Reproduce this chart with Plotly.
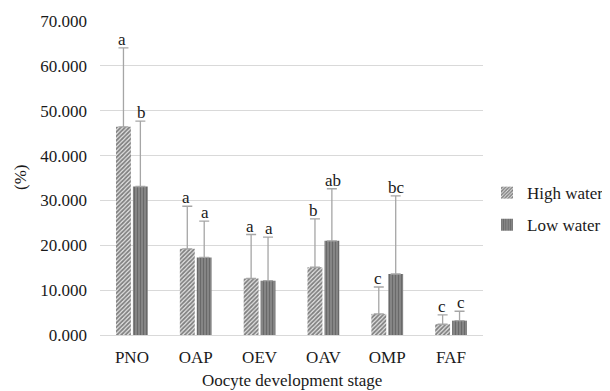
import plotly.graph_objects as go

categories = ["PNO", "OAP", "OEV", "OAV", "OMP", "FAF"]
high_water = [46.4, 19.2, 12.6, 15.1, 4.7, 2.4]
high_err = [17.6, 9.5, 9.8, 10.8, 6.0, 2.1]
low_water = [33.1, 17.3, 12.1, 21.0, 13.6, 3.2]
low_err = [14.6, 8.1, 9.7, 11.6, 17.4, 2.1]
high_letters = ["a", "a", "a", "b", "c", "c"]
low_letters = ["b", "a", "a", "ab", "bc", "c"]
y_ticks = [0, 10, 20, 30, 40, 50, 60, 70]

font = "Times New Roman, Liberation Serif, serif"
txt = "#1a1a1a"
# page body has an 8px default margin, so the figure is sized/offset to compensate
W, H = 602, 383
L, T, PW, PH = 92, 13, 383, 314

fig = go.Figure()
fig.add_trace(go.Bar(
    name="High water", x=categories, y=high_water, legendgroup="h",
    marker=dict(color="white", line=dict(width=0),
                pattern=dict(shape="/", fgcolor="#1a1a1a", bgcolor="#e6e6e6", size=3, solidity=0.6)),
    error_y=dict(type="data", array=high_err, arrayminus=[0]*6, symmetric=False,
                 color="#a6a6a6", thickness=1.3, width=5),
))
fig.add_trace(go.Bar(
    name="Low water", x=categories, y=low_water, legendgroup="l",
    marker=dict(color="white", line=dict(width=0),
                pattern=dict(shape="|", fgcolor="#444444", bgcolor="#8e8e8e", size=3, solidity=0.5)),
    error_y=dict(type="data", array=low_err, arrayminus=[0]*6, symmetric=False,
                 color="#a6a6a6", thickness=1.3, width=5),
))

ann = []
for i, c in enumerate(categories):
    ann.append(dict(x=c, y=high_water[i] + high_err[i], xref="x", yref="y", text=high_letters[i],
                    showarrow=False, xshift=-9.5, yanchor="bottom", yshift=-3,
                    font=dict(family=font, size=17, color=txt)))
    ann.append(dict(x=c, y=low_water[i] + low_err[i], xref="x", yref="y", text=low_letters[i],
                    showarrow=False, xshift=9.5, yanchor="bottom", yshift=-3,
                    font=dict(family=font, size=17, color=txt)))
# axis titles
ann.append(dict(x=(12 - L) / PW, y=0.5, xref="paper", yref="paper", text="(%)", textangle=-90,
                showarrow=False, xanchor="center", yanchor="middle",
                font=dict(family=font, size=17, color=txt)))
ann.append(dict(x=0.5, y=-45 / PH, xref="paper", yref="paper", text="Oocyte development stage",
                showarrow=False, xanchor="center", yanchor="middle",
                font=dict(family=font, size=17, color=txt)))

fig.update_layout(
    width=W, height=H,
    margin=dict(l=L, r=W - L - PW, t=T, b=H - T - PH, autoexpand=False),
    paper_bgcolor="white", plot_bgcolor="white",
    barmode="group", bargap=0.47, bargroupgap=0.12,
    font=dict(family=font, size=17, color=txt),
    showlegend=True,
    legend=dict(x=(479 - L) / PW, y=0.401, xanchor="left", yanchor="middle",
                traceorder="grouped", tracegroupgap=7,
                font=dict(family=font, size=17, color=txt), itemwidth=30),
    annotations=ann,
    xaxis=dict(showline=True, linecolor="#d9d9d9", linewidth=1, ticks="", automargin=False,
               ticklabelstandoff=7, tickfont=dict(family=font, size=17)),
    yaxis=dict(range=[0, 70], tickvals=y_ticks, tickformat=".3f", automargin=False,
               showgrid=True, gridcolor="#d9d9d9", gridwidth=1, zeroline=False,
               ticks="", ticklabelstandoff=12, tickfont=dict(family=font, size=17)),
)

fig.write_html("out.html")
